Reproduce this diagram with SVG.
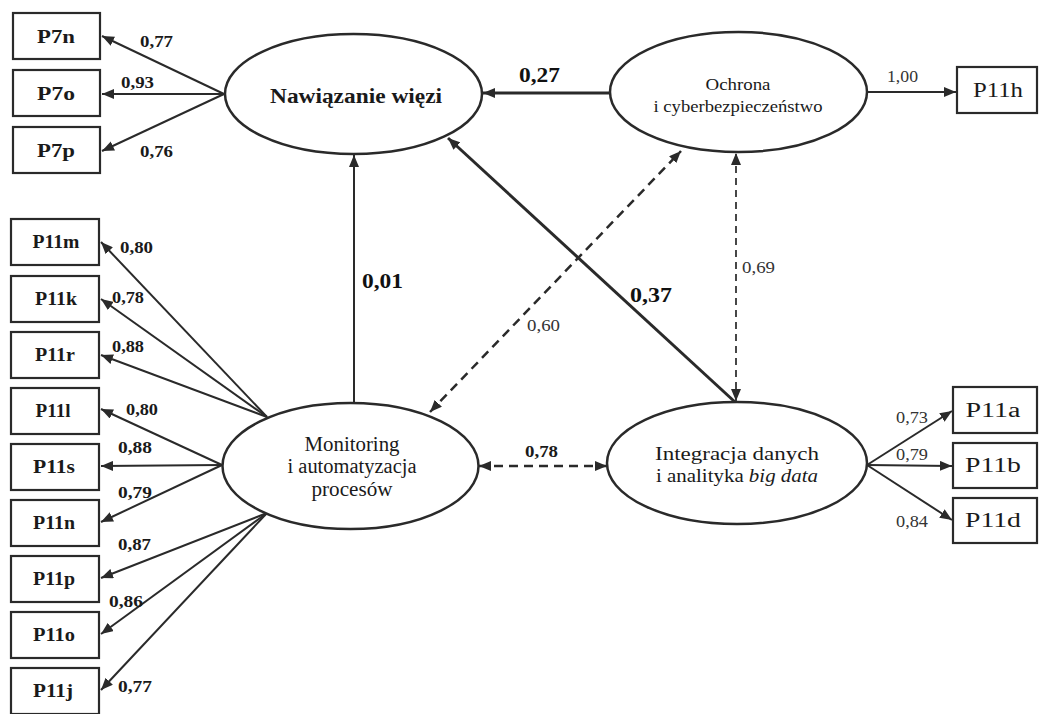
<svg xmlns="http://www.w3.org/2000/svg" width="1039" height="714" viewBox="0 0 1039 714">
<style>
  .box { fill: #fff; stroke: #2a2a2a; stroke-width: 2.2; }
  .ell { fill: #fff; stroke: #2a2a2a; stroke-width: 2.5; }
  .bl { font-family: "Liberation Serif", "Times New Roman", serif; font-size: 19px; font-weight: bold; fill: #1a1a1a; text-anchor: middle; }
  .br { font-family: "Liberation Serif", "Times New Roman", serif; font-size: 20px; fill: #1a1a1a; text-anchor: middle; }
  .nl { font-family: "Liberation Serif", "Times New Roman", serif; fill: #1a1a1a; text-anchor: middle; }
  .num { font-family: "Liberation Serif", "Times New Roman", serif; font-size: 16px; font-weight: bold; fill: #1a1a1a; }
  .numr { font-family: "Liberation Serif", "Times New Roman", serif; font-size: 16px; fill: #333; }
  .big { font-family: "Liberation Serif", "Times New Roman", serif; font-size: 21px; font-weight: bold; fill: #111; }
  .ln { fill: none; stroke: #2a2a2a; stroke-width: 2; }
  .thick { fill: none; stroke: #2a2a2a; stroke-width: 3; }
  .dash { fill: none; stroke: #2a2a2a; stroke-width: 2.5; stroke-dasharray: 9 6; }
  .dashthin { fill: none; stroke: #333; stroke-width: 1.8; stroke-dasharray: 7 5; }
</style>
<defs>
  <marker id="ah" viewBox="0 0 12 10" refX="12" refY="5" markerWidth="12" markerHeight="10" markerUnits="userSpaceOnUse" orient="auto-start-reverse">
    <path d="M0,0 L12,5 L0,10 z" fill="#2a2a2a"/>
  </marker>
</defs>
<rect width="1039" height="714" fill="#fff"/>

<g id="connectors">
  <!-- Nawiazanie indicators -->
  <line class="ln" x1="224" y1="94" x2="102" y2="36" marker-end="url(#ah)"/>
  <line class="ln" x1="224" y1="94" x2="102" y2="94" marker-end="url(#ah)"/>
  <line class="ln" x1="224" y1="94" x2="102" y2="151" marker-end="url(#ah)"/>
  <!-- Monitoring indicators -->
  <line class="ln" x1="267" y1="417" x2="101" y2="242" marker-end="url(#ah)"/>
  <line class="ln" x1="267" y1="417" x2="101" y2="299" marker-end="url(#ah)"/>
  <line class="ln" x1="267" y1="417" x2="101" y2="355" marker-end="url(#ah)"/>
  <line class="ln" x1="222" y1="465" x2="101" y2="409" marker-end="url(#ah)"/>
  <line class="ln" x1="222" y1="465" x2="101" y2="466" marker-end="url(#ah)"/>
  <line class="ln" x1="222" y1="465" x2="101" y2="522" marker-end="url(#ah)"/>
  <line class="ln" x1="267" y1="513" x2="101" y2="578" marker-end="url(#ah)"/>
  <line class="ln" x1="267" y1="513" x2="101" y2="634" marker-end="url(#ah)"/>
  <line class="ln" x1="267" y1="513" x2="101" y2="690" marker-end="url(#ah)"/>
  <!-- Integracja indicators -->
  <line class="ln" x1="867" y1="465" x2="952" y2="411" marker-end="url(#ah)"/>
  <line class="ln" x1="867" y1="465" x2="952" y2="466" marker-end="url(#ah)"/>
  <line class="ln" x1="867" y1="465" x2="952" y2="520" marker-end="url(#ah)"/>
  <!-- Ochrona indicator -->
  <line class="ln" x1="867" y1="92" x2="956" y2="92" marker-end="url(#ah)"/>
  <!-- structural paths -->
  <line class="thick" x1="610" y1="93" x2="483" y2="93" marker-end="url(#ah)"/>
  <line class="ln" x1="354" y1="403" x2="354" y2="155" marker-end="url(#ah)"/>
  <line class="thick" x1="735" y1="402" x2="448" y2="138" marker-end="url(#ah)"/>
  <!-- correlations -->
  <line class="dash" x1="430" y1="412" x2="681" y2="151" marker-start="url(#ah)" marker-end="url(#ah)"/>
  <line class="dashthin" x1="736" y1="401" x2="736" y2="153" marker-start="url(#ah)" marker-end="url(#ah)"/>
  <line class="dash" x1="479" y1="466" x2="607" y2="466" marker-start="url(#ah)" marker-end="url(#ah)"/>

  <!-- labels -->
  <text class="num" x="140" y="47" textLength="33" lengthAdjust="spacingAndGlyphs">0,77</text>
  <text class="num" x="121" y="88" textLength="33" lengthAdjust="spacingAndGlyphs">0,93</text>
  <text class="num" x="140" y="157" textLength="33" lengthAdjust="spacingAndGlyphs">0,76</text>

  <text class="num" x="120" y="253" textLength="33" lengthAdjust="spacingAndGlyphs">0,80</text>
  <text class="num" x="112" y="303" textLength="32" lengthAdjust="spacingAndGlyphs">0,78</text>
  <text class="num" x="112" y="352" textLength="32" lengthAdjust="spacingAndGlyphs">0,88</text>
  <text class="num" x="126" y="415" textLength="32" lengthAdjust="spacingAndGlyphs">0,80</text>
  <text class="num" x="118" y="453" textLength="34" lengthAdjust="spacingAndGlyphs">0,88</text>
  <text class="num" x="118" y="498" textLength="34" lengthAdjust="spacingAndGlyphs">0,79</text>
  <text class="num" x="118" y="550" textLength="33" lengthAdjust="spacingAndGlyphs">0,87</text>
  <text class="num" x="109" y="607" textLength="34" lengthAdjust="spacingAndGlyphs">0,86</text>
  <text class="num" x="118" y="692" textLength="34" lengthAdjust="spacingAndGlyphs">0,77</text>

  <text class="numr" x="896" y="423" textLength="32" lengthAdjust="spacingAndGlyphs">0,73</text>
  <text class="numr" x="896" y="460" textLength="32" lengthAdjust="spacingAndGlyphs">0,79</text>
  <text class="numr" x="896" y="527" textLength="32" lengthAdjust="spacingAndGlyphs">0,84</text>
  <text class="numr" x="887" y="82" textLength="31" lengthAdjust="spacingAndGlyphs">1,00</text>

  <text class="big" x="519" y="82" textLength="41" lengthAdjust="spacingAndGlyphs">0,27</text>
  <text class="big" x="362" y="288" textLength="41" lengthAdjust="spacingAndGlyphs">0,01</text>
  <text class="big" x="630" y="302" textLength="42" lengthAdjust="spacingAndGlyphs">0,37</text>
  <text class="numr" x="527" y="331" textLength="33" lengthAdjust="spacingAndGlyphs">0,60</text>
  <text class="numr" x="742" y="273" textLength="33" lengthAdjust="spacingAndGlyphs">0,69</text>
  <text class="num" x="525" y="457" textLength="33" lengthAdjust="spacingAndGlyphs">0,78</text>
</g>

<g id="nawiazanie">
  <ellipse class="ell" cx="353.5" cy="94" rx="128.5" ry="60"/>
  <text class="nl" x="356" y="103" font-size="20" font-weight="bold" textLength="172" lengthAdjust="spacingAndGlyphs">Nawiązanie więzi</text>
</g>
<g id="ochrona">
  <ellipse class="ell" cx="738.5" cy="92" rx="128.5" ry="60"/>
  <text class="nl" x="738" y="90" font-size="16" textLength="65" lengthAdjust="spacingAndGlyphs">Ochrona</text>
  <text class="nl" x="738" y="112" font-size="16" textLength="169" lengthAdjust="spacingAndGlyphs">i cyberbezpieczeństwo</text>
</g>
<g id="monitoring">
  <ellipse class="ell" cx="350.5" cy="466" rx="128" ry="63"/>
  <text class="nl" x="352" y="451" font-size="20" textLength="95" lengthAdjust="spacingAndGlyphs">Monitoring</text>
  <text class="nl" x="352" y="473" font-size="20" textLength="129" lengthAdjust="spacingAndGlyphs">i automatyzacja</text>
  <text class="nl" x="352" y="496" font-size="20" textLength="81" lengthAdjust="spacingAndGlyphs">procesów</text>
</g>
<g id="integracja">
  <ellipse class="ell" cx="737" cy="463" rx="130" ry="61"/>
  <text class="nl" x="737" y="460" font-size="19" textLength="164" lengthAdjust="spacingAndGlyphs">Integracja danych</text>
  <text class="nl" x="737" y="482" font-size="19" textLength="162" lengthAdjust="spacingAndGlyphs">i analityka <tspan font-style="italic">big data</tspan></text>
</g>

<g id="P7n"><rect class="box" x="13" y="13" width="87" height="46"/><text class="bl" x="56" y="43" textLength="38" lengthAdjust="spacingAndGlyphs">P7n</text></g>
<g id="P7o"><rect class="box" x="13" y="70" width="87" height="46"/><text class="bl" x="56" y="100" textLength="38" lengthAdjust="spacingAndGlyphs">P7o</text></g>
<g id="P7p"><rect class="box" x="13" y="127" width="87" height="46"/><text class="bl" x="56" y="157" textLength="38" lengthAdjust="spacingAndGlyphs">P7p</text></g>

<g id="P11m"><rect class="box" x="11" y="219" width="88" height="46"/><text class="bl" x="56" y="248" textLength="47" lengthAdjust="spacingAndGlyphs">P11m</text></g>
<g id="P11k"><rect class="box" x="11" y="276" width="88" height="46"/><text class="bl" x="56" y="305" textLength="42" lengthAdjust="spacingAndGlyphs">P11k</text></g>
<g id="P11r"><rect class="box" x="11" y="332" width="88" height="46"/><text class="bl" x="55" y="361" textLength="40" lengthAdjust="spacingAndGlyphs">P11r</text></g>
<g id="P11l"><rect class="box" x="11" y="388" width="88" height="46"/><text class="bl" x="53" y="417" textLength="35" lengthAdjust="spacingAndGlyphs">P11l</text></g>
<g id="P11s"><rect class="box" x="11" y="444" width="88" height="46"/><text class="bl" x="54" y="473" textLength="42" lengthAdjust="spacingAndGlyphs">P11s</text></g>
<g id="P11n"><rect class="box" x="11" y="500" width="88" height="46"/><text class="bl" x="54" y="529" textLength="42" lengthAdjust="spacingAndGlyphs">P11n</text></g>
<g id="P11p"><rect class="box" x="11" y="556" width="88" height="46"/><text class="bl" x="54" y="585" textLength="42" lengthAdjust="spacingAndGlyphs">P11p</text></g>
<g id="P11o"><rect class="box" x="11" y="612" width="88" height="46"/><text class="bl" x="54" y="641" textLength="42" lengthAdjust="spacingAndGlyphs">P11o</text></g>
<g id="P11j"><rect class="box" x="11" y="668" width="88" height="46"/><text class="bl" x="53" y="697" textLength="40" lengthAdjust="spacingAndGlyphs">P11j</text></g>

<g id="P11h"><rect class="box" x="957" y="67" width="80" height="46"/><text class="br" x="998" y="97" textLength="50" lengthAdjust="spacingAndGlyphs">P11h</text></g>
<g id="P11a"><rect class="box" x="953" y="387" width="84" height="46"/><text class="br" x="993" y="417" textLength="55" lengthAdjust="spacingAndGlyphs">P11a</text></g>
<g id="P11b"><rect class="box" x="953" y="443" width="84" height="45"/><text class="br" x="993" y="472" textLength="56" lengthAdjust="spacingAndGlyphs">P11b</text></g>
<g id="P11d"><rect class="box" x="953" y="498" width="84" height="45"/><text class="br" x="993" y="527" textLength="56" lengthAdjust="spacingAndGlyphs">P11d</text></g>
</svg>
